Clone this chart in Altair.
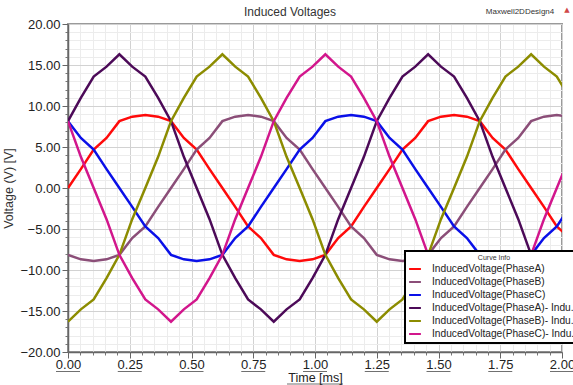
import altair as alt
import pandas as pd

# ---- data (time step 1/24 of the 1.25 ms period) ----
time_ms = [0.000, 0.052, 0.104, 0.156, 0.208, 0.260, 0.313, 0.365, 0.417, 0.469,
           0.521, 0.573, 0.625, 0.677, 0.729, 0.781, 0.833, 0.885, 0.938, 0.990,
           1.042, 1.094, 1.146, 1.198, 1.250, 1.302, 1.354, 1.406, 1.458, 1.510,
           1.563, 1.615, 1.667, 1.719, 1.771, 1.823, 1.875, 1.927, 1.979, 2.031]

phase_a = [0.0, 2.3, 4.7, 6.1, 8.15, 8.7, 8.9, 8.7, 8.15, 6.1,
           4.7, 2.3, 0.0, -2.3, -4.7, -6.1, -8.15, -8.7, -8.9, -8.7,
           -8.15, -6.1, -4.7, -2.3, 0.0, 2.3, 4.7, 6.1, 8.15, 8.7,
           8.9, 8.7, 8.15, 6.1, 4.7, 2.3, 0.0, -2.3, -4.7, -6.1]
phase_b = [-8.15, -8.7, -8.9, -8.7, -8.15, -6.1, -4.7, -2.3, 0.0, 2.3,
           4.7, 6.1, 8.15, 8.7, 8.9, 8.7, 8.15, 6.1, 4.7, 2.3,
           0.0, -2.3, -4.7, -6.1, -8.15, -8.7, -8.9, -8.7, -8.15, -6.1,
           -4.7, -2.3, 0.0, 2.3, 4.7, 6.1, 8.15, 8.7, 8.9, 8.7]
phase_c = [8.15, 6.1, 4.7, 2.3, 0.0, -2.3, -4.7, -6.1, -8.15, -8.7,
           -8.9, -8.7, -8.15, -6.1, -4.7, -2.3, 0.0, 2.3, 4.7, 6.1,
           8.15, 8.7, 8.9, 8.7, 8.15, 6.1, 4.7, 2.3, 0.0, -2.3,
           -4.7, -6.1, -8.15, -8.7, -8.9, -8.7, -8.15, -6.1, -4.7, -2.3]
line_ab = [8.15, 11.0, 13.6, 14.8, 16.3, 14.8, 13.6, 11.0, 8.15, 3.8,
           0.0, -3.8, -8.15, -11.0, -13.6, -14.8, -16.3, -14.8, -13.6, -11.0,
           -8.15, -3.8, 0.0, 3.8, 8.15, 11.0, 13.6, 14.8, 16.3, 14.8,
           13.6, 11.0, 8.15, 3.8, 0.0, -3.8, -8.15, -11.0, -13.6, -14.8]
line_bc = [-16.3, -14.8, -13.6, -11.0, -8.15, -3.8, 0.0, 3.8, 8.15, 11.0,
           13.6, 14.8, 16.3, 14.8, 13.6, 11.0, 8.15, 3.8, 0.0, -3.8,
           -8.15, -11.0, -13.6, -14.8, -16.3, -14.8, -13.6, -11.0, -8.15, -3.8,
           0.0, 3.8, 8.15, 11.0, 13.6, 14.8, 16.3, 14.8, 13.6, 11.0]
line_ca = [8.15, 3.8, 0.0, -3.8, -8.15, -11.0, -13.6, -14.8, -16.3, -14.8,
           -13.6, -11.0, -8.15, -3.8, 0.0, 3.8, 8.15, 11.0, 13.6, 14.8,
           16.3, 14.8, 13.6, 11.0, 8.15, 3.8, 0.0, -3.8, -8.15, -11.0,
           -13.6, -14.8, -16.3, -14.8, -13.6, -11.0, -8.15, -3.8, 0.0, 3.8]

series_names = ["InducedVoltage(PhaseA)",
                "InducedVoltage(PhaseB)",
                "InducedVoltage(PhaseC)",
                "InducedVoltage(PhaseA)- InducedVoltage(PhaseB)",
                "InducedVoltage(PhaseB)- InducedVoltage(PhaseC)",
                "InducedVoltage(PhaseC)- InducedVoltage(PhaseA)"]
series_colors = ["#ff0a0a", "#8b4e78", "#0a10e8", "#4c0a58", "#8c8c00", "#d2168c"]

x_major = [0.0, 0.25, 0.5, 0.75, 1.0, 1.25, 1.5, 1.75, 2.0]
x_minor = [0.05, 0.1, 0.15, 0.2, 0.3, 0.35, 0.4, 0.45, 0.55, 0.6, 0.65, 0.7,
           0.8, 0.85, 0.9, 0.95, 1.05, 1.1, 1.15, 1.2, 1.3, 1.35, 1.4, 1.45,
           1.55, 1.6, 1.65, 1.7, 1.8, 1.85, 1.9, 1.95]
y_major = [-20, -15, -10, -5, 0, 5, 10, 15, 20]
y_minor = [-19, -18, -17, -16, -14, -13, -12, -11, -9, -8, -7, -6, -4, -3, -2, -1,
           1, 2, 3, 4, 6, 7, 8, 9, 11, 12, 13, 14, 16, 17, 18, 19]

title_text = ["Induced Voltages"]
design_text = ["Maxwell2DDesign4"]
marker_text = ["\u25B2"]
x_title = "Time [ms]"
y_title = "Voltage (V) [V]"
legend_title = "Curve Info"

# ---- build table ----
all_values = [phase_a, phase_b, phase_c, line_ab, line_bc, line_ca]
rows = []
for name, vals in zip(series_names, all_values):
    for t, v in zip(time_ms, vals):
        rows.append({"series": name, "t": t, "v": v})
df = pd.DataFrame(rows)

FONT = "Liberation Sans"
W, H = 494, 328
xs = alt.Scale(domain=[0, 2], nice=False, zero=False)
ys = alt.Scale(domain=[-20, 20], nice=False, zero=False)

minor = alt.Chart(df).mark_line(opacity=0).encode(
    x=alt.X("t:Q", scale=xs, title=None,
            axis=alt.Axis(orient="bottom", values=x_minor, labels=False, domain=False,
                          tickSize=3, tickColor="#777777", gridColor="#ececec", grid=True)),
    y=alt.Y("v:Q", scale=ys, title=None,
            axis=alt.Axis(orient="left", values=y_minor, labels=False, domain=False,
                          tickSize=3, tickColor="#777777", gridColor="#ececec", grid=True)),
    detail="series:N",
)

lines = alt.Chart(df).mark_line(strokeWidth=2.5, clip=True).encode(
    x=alt.X("t:Q", scale=xs,
            axis=alt.Axis(orient="bottom", values=x_major, format=".2f", title=x_title,
                          labelFont=FONT, labelFontSize=13, labelColor="#222222",
                          labelPadding=0, labelFlush=False, tickSize=6, tickColor="#666666",
                          domainColor="#666666", domainWidth=1.5,
                          gridColor="#d2d2d2", grid=True,
                          titleFont=FONT, titleFontSize=12.5, titleFontWeight="normal",
                          titleColor="#222222", titlePadding=0)),
    y=alt.Y("v:Q", scale=ys,
            axis=alt.Axis(orient="left", values=y_major, format=".2f", title=y_title,
                          labelFont=FONT, labelFontSize=13, labelColor="#222222",
                          labelPadding=2, labelFlush=False, tickSize=6, tickColor="#666666",
                          domainColor="#666666", domainWidth=1.5,
                          gridColor="#d2d2d2", grid=True,
                          titleFont=FONT, titleFontSize=12.5, titleFontWeight="normal",
                          titleColor="#333333", titleX=-53)),
    color=alt.Color("series:N", sort=series_names,
                    scale=alt.Scale(domain=series_names, range=series_colors),
                    legend=alt.Legend(
                        title=legend_title, orient="none", legendX=337, legendY=227,
                        titleFont=FONT, titleFontSize=7, titleFontWeight="normal",
                        titleColor="#333333", titleAnchor="middle", titlePadding=1,
                        labelFont=FONT, labelFontSize=10.2, labelColor="#222222",
                        labelLimit=400, labelOffset=10,
                        labelExpr="length(datum.label) > 30 ? slice(datum.label, 0, 28) + '...' : datum.label",
                        symbolType="stroke", symbolStrokeWidth=2, symbolSize=139,
                        fillColor="white", strokeColor="#000000",
                        padding=3, rowPadding=0)),
)

underline_df = pd.DataFrame({"tick": x_major})
underlines = alt.Chart(underline_df).mark_tick(
    orient="horizontal", size=24, thickness=1, color="#333333", clip=False
).encode(x=alt.X("tick:Q", scale=xs, axis=None), y=alt.value(347.5))

title_underline = alt.Chart(pd.DataFrame({"tick": [1.0]})).mark_tick(
    orient="horizontal", size=56, thickness=1, color="#333333", clip=False
).encode(x=alt.X("tick:Q", scale=xs, axis=None), y=alt.value(360))

title = alt.Chart(pd.DataFrame({"label": title_text})).mark_text(
    font=FONT, fontSize=12, color="#333333"
).encode(text="label:N", x=alt.value(222), y=alt.value(-12))

design = alt.Chart(pd.DataFrame({"label": design_text})).mark_text(
    font=FONT, fontSize=8, color="#333333"
).encode(text="label:N", x=alt.value(452), y=alt.value(-12))

marker = alt.Chart(pd.DataFrame({"label": marker_text})).mark_text(
    font="DejaVu Sans", fontSize=7, color="#d04848"
).encode(text="label:N", x=alt.value(499), y=alt.value(-14))

chart = alt.layer(minor, lines, underlines, title_underline, title, design, marker).resolve_axis(
    x="independent", y="independent"
).properties(
    width=W, height=H, autosize="none",
    padding={"left": 68, "top": 24, "right": 11, "bottom": 33},
).configure_view(stroke="#9a9a9a", strokeWidth=2).configure_legend(strokeWidth=2)

chart.save("out.html", embed_options={"renderer": "svg", "actions": False})
